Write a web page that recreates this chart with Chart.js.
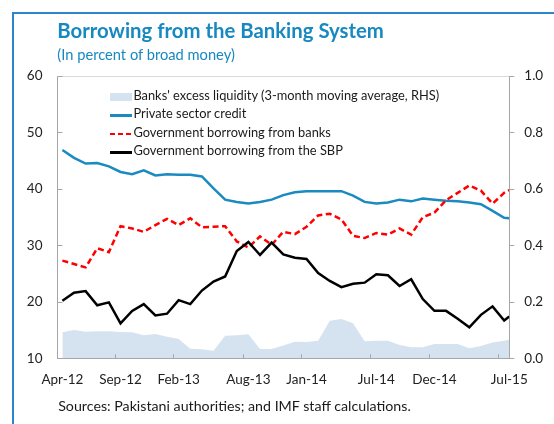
<!DOCTYPE html>
<html>
<head>
<meta charset="utf-8">
<script src="https://cdn.jsdelivr.net/npm/chart.js@4.4.1/dist/chart.umd.min.js"></script>
<style>
  html, body { margin: 0; padding: 0; width: 554px; height: 424px; overflow: hidden; background: #fff; }
  body { position: relative; font-family: Lato, "Open Sans", sans-serif; }
  #frame { position: absolute; left: 12px; top: 12px; width: 700px; height: 600px;
           border-left: 2px solid #2a87c9; border-top: 2px solid #2a87c9; }
  #wrap { position: absolute; left: 0; top: 0; width: 554px; height: 424px; }
  .txt { position: absolute; white-space: nowrap; line-height: 1.2; }
  #title { color: #1789c0; font-weight: bold; font-size: 18px; }
  #subtitle { color: #1789c0; font-size: 14px; }
  #source { color: #1a1a1a; font-size: 13px; }
  .leg { color: #1a1a1a; font-size: 13.5px; }
  .sw { position: absolute; }
</style>
</head>
<body>
<div id="frame"></div>
<div id="wrap"><canvas id="c" width="554" height="424"></canvas></div>
<div id="title" class="txt">Borrowing from the Banking System</div>
<div id="subtitle" class="txt">(In percent of broad money)</div>
<div id="legend"></div>
<div id="source" class="txt">Sources: Pakistani authorities; and IMF staff calculations.</div>
<script>
// ---- Data ----
// Observations: monthly from Apr-2012 to Jun-2015, plus a final mid-July 2015 observation.
// x = months elapsed since Apr-2012
const obsMonths = [0,1,2,3,4,5,6,7,8,9,10,11,12,13,14,15,16,17,18,19,20,
                   21,22,23,24,25,26,27,28,29,30,31,32,33,34,35,36,37,38,38.44];

const excessLiquidity = [0.092,0.100,0.094,0.096,0.096,0.093,0.092,0.082,0.086,0.076,
                         0.068,0.034,0.032,0.027,0.080,0.082,0.085,0.033,0.033,0.045,
                         0.059,0.058,0.062,0.133,0.139,0.124,0.060,0.062,0.062,0.047,
                         0.039,0.039,0.051,0.051,0.051,0.036,0.044,0.056,0.062,0.067];

const privateCredit = [46.9,45.5,44.5,44.6,44.0,43.0,42.6,43.3,42.4,42.6,
                       42.5,42.5,42.2,40.1,38.1,37.7,37.4,37.7,38.1,38.9,
                       39.4,39.6,39.6,39.6,39.6,38.8,37.7,37.4,37.6,38.1,
                       37.8,38.3,38.1,37.9,37.8,37.6,37.3,36.1,34.9,34.8];

const govBanks = [27.3,26.7,26.1,29.5,28.8,33.4,33.0,32.4,33.6,34.7,
                  33.6,34.8,33.2,33.3,33.4,30.7,29.6,31.6,30.1,32.4,
                  32.0,33.3,35.3,35.6,34.6,31.7,31.3,32.2,31.9,33.0,
                  31.9,35.0,35.8,38.0,39.3,40.6,39.7,37.4,39.3,39.8];

const govSBP = [20.2,21.6,21.9,19.4,19.9,16.2,18.4,19.6,17.6,17.9,
                20.3,19.6,22.0,23.6,24.5,29.0,30.6,28.3,30.5,28.4,
                27.8,27.6,25.1,23.7,22.6,23.2,23.4,24.9,24.7,22.8,
                24.0,20.5,18.4,18.4,17.0,15.5,17.7,19.2,16.7,17.4];

const xTickLabels = ['Apr-12','Sep-12','Feb-13','Aug-13','Jan-14','Jul-14','Dec-14','Jul-15'];
const xTickMonths = [0,5,10,16,21,27,32,38.44];
const xTickMarkMonths = [4.5,9.5,15.5,20.5,26.5,31.5,37.5];

const seriesNames = ["Banks' excess liquidity (3-month moving average, RHS)",
                     'Private sector credit',
                     'Government borrowing from banks',
                     'Government borrowing from the SBP'];

// ---- Styles ----
const C_BLUE = '#1a8ac1', C_RED = '#ff0000', C_BLACK = '#000000', C_AREA = '#d5e3f0';
const AXIS = '#a6a6a6';
const FONT = { family: 'Lato, "Open Sans", sans-serif', size: 13.5 };

const pts = arr => arr.map((v, i) => ({ x: obsMonths[i], y: v }));

const tickMarks = {
  id: 'tickMarks',
  afterDraw(chart) {
    const { ctx, chartArea: a, scales } = chart;
    ctx.save();
    ctx.lineWidth = 1;
    ctx.strokeStyle = '#d9d9d9';
    ctx.beginPath();
    ctx.moveTo(a.left, a.top + 0.5); ctx.lineTo(a.right, a.top + 0.5);
    ctx.stroke();
    ctx.strokeStyle = AXIS;
    ctx.beginPath();
    for (let v = 10; v <= 60; v += 10) {
      const y = Math.round(scales.y.getPixelForValue(v)) + 0.5;
      ctx.moveTo(a.left, y); ctx.lineTo(a.left + 5, y);
    }
    for (let k = 0; k <= 5; k++) {
      const y = Math.round(scales.y2.getPixelForValue(k * 0.2)) + 0.5;
      ctx.moveTo(a.right, y); ctx.lineTo(a.right + 5, y);
    }
    xTickMarkMonths.forEach(m => {
      const x = Math.round(scales.x.getPixelForValue(m)) + 0.5;
      ctx.moveTo(x, a.bottom); ctx.lineTo(x, a.bottom - 4);
    });
    ctx.stroke();
    ctx.restore();
  }
};

new Chart(document.getElementById('c'), {
  type: 'line',
  data: {
    datasets: [
      { label: seriesNames[3], data: pts(govSBP), yAxisID: 'y', borderColor: C_BLACK,
        borderWidth: 2.5, pointRadius: 0, tension: 0, fill: false, order: 1 },
      { label: seriesNames[2], data: pts(govBanks), yAxisID: 'y', borderColor: C_RED,
        borderWidth: 2.5, borderDash: [6, 3.5], pointRadius: 0, tension: 0, fill: false, order: 2 },
      { label: seriesNames[1], data: pts(privateCredit), yAxisID: 'y', borderColor: C_BLUE,
        borderWidth: 2.5, pointRadius: 0, tension: 0, fill: false, order: 3 },
      { label: seriesNames[0], data: pts(excessLiquidity), yAxisID: 'y2', borderColor: C_AREA,
        backgroundColor: C_AREA, borderWidth: 0, pointRadius: 0, tension: 0, fill: 'origin', order: 10 }
    ]
  },
  options: {
    responsive: false,
    animation: false,
    devicePixelRatio: 1,
    layout: { padding: { top: 76, bottom: 35.7, left: 0, right: 0 } },
    plugins: { legend: { display: false }, tooltip: { enabled: false } },
    scales: {
      x: {
        type: 'linear', min: -0.42, max: 38.44,
        afterBuildTicks: s => { s.ticks = xTickMonths.map(v => ({ value: v })); },
        afterFit: s => { s.height = 30; },
        ticks: { autoSkip: false, maxRotation: 0, padding: 13, color: '#222', font: FONT,
                 callback: (v, i) => xTickLabels[i] },
        grid: { display: false, drawTicks: false },
        border: { display: true, color: AXIS, width: 1 }
      },
      y: {
        position: 'left', min: 10, max: 60,
        afterFit: s => { s.width = 57.5; },
        ticks: { stepSize: 10, padding: 15, color: '#222', font: FONT },
        grid: { display: false, drawTicks: false },
        border: { display: true, color: AXIS, width: 1 }
      },
      y2: {
        position: 'right', min: 0, max: 1,
        afterFit: s => { s.width = 44.7; },
        ticks: { stepSize: 0.2, padding: 15, color: '#222', font: FONT,
                 callback: v => v.toFixed(1) },
        grid: { display: false, drawTicks: false },
        border: { display: true, color: AXIS, width: 1 }
      }
    }
  },
  plugins: [tickMarks]
});

// ---- HTML text: place by baseline and fit to reference widths ----
function place(el, x, baseline, targetW) {
  el.style.left = x + 'px';
  if (targetW) {
    const w = el.getBoundingClientRect().width;
    const fs = parseFloat(getComputedStyle(el).fontSize);
    el.style.fontSize = (fs * targetW / w) + 'px';
  }
  const fs2 = parseFloat(getComputedStyle(el).fontSize);
  el.style.top = (baseline - 0.987 * fs2 - 0.1 * fs2) + 'px';
  return fs2;
}
place(document.getElementById('title'), 57.3, 40, 326.7);
place(document.getElementById('subtitle'), 57.3, 61.7, 177.7);
place(document.getElementById('source'), 58.2, 412.5, 353);

const legend = document.getElementById('legend');
const legBase = [101.5, 120.1, 138.7, 157.3];
const legStyle = [
  { type: 'box', color: C_AREA },
  { type: 'line', color: C_BLUE },
  { type: 'dash', color: C_RED },
  { type: 'line', color: C_BLACK }
];
let legFs = null;
seriesNames.forEach((name, i) => {
  const t = document.createElement('div');
  t.className = 'txt leg';
  t.textContent = name;
  legend.appendChild(t);
  if (legFs) t.style.fontSize = legFs + 'px';
  const fs = place(t, 133.4, legBase[i], i === 0 ? 306 : null);
  if (i === 0) legFs = fs;
  const s = document.createElement('div');
  s.className = 'sw';
  const cy = legBase[i] - 4.7;
  s.style.left = '110px';
  s.style.width = '21.5px';
  if (legStyle[i].type === 'box') {
    s.style.top = (cy - 4) + 'px'; s.style.height = '8px'; s.style.background = legStyle[i].color;
  } else if (legStyle[i].type === 'line') {
    s.style.top = (cy - 1.25) + 'px'; s.style.height = '2.5px'; s.style.background = legStyle[i].color;
  } else {
    s.style.top = (cy - 1.25) + 'px'; s.style.height = '2.5px';
    s.style.background = `repeating-linear-gradient(to right, ${legStyle[i].color} 0 5px, transparent 5px 8px)`;
  }
  legend.appendChild(s);
});
</script>
</body>
</html>
